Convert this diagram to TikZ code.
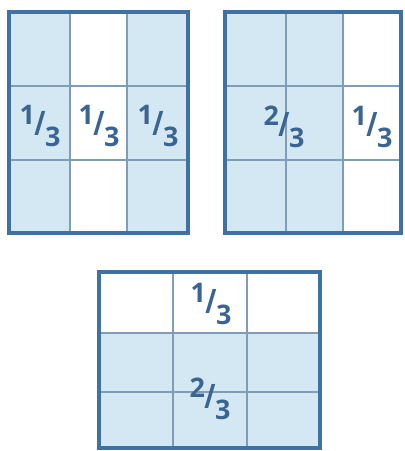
\documentclass[tikz,border=0pt]{standalone}
\usepackage{fontspec}
\setsansfont{Open Sans}
\definecolor{frameblue}{HTML}{3E72A4}
\definecolor{cellblue}{HTML}{D4E8F4}
\definecolor{gridblue}{HTML}{7F9CB8}
\definecolor{textblue}{HTML}{3A6491}
\usetikzlibrary{positioning}

% one third / two thirds written with a slanted bar
\newcommand{\slfrac}[2]{\raisebox{0.4em}{#1}\kern-0.02em\scalebox{1}[1.25]{/}\kern-0.02em\raisebox{-0.4em}{#2}}

\begin{document}
\begin{tikzpicture}[x=0.03cm, y=-0.03cm,
    framebox/.style={draw=frameblue, line width=3.4pt},
    gridline/.style={draw=gridblue, line width=0.9pt},
    fraclabel/.style={text=textblue, font=\sffamily\bfseries\fontsize{23}{23}\selectfont, inner sep=0pt}]
  \useasboundingbox (0,0) rectangle (405,451);

  % left sheet: three columns, outer two shaded
  \fill[cellblue] (9,12) rectangle (70,233);
  \fill[cellblue] (127,12) rectangle (188,233);
  \foreach \x in {70,127} \draw[gridline] (\x,12) -- (\x,233);
  \foreach \y in {86,160} \draw[gridline] (9,\y) -- (188,\y);
  \draw[framebox] (9,12) rectangle (188,233);

  \node[fraclabel] (leftA) at (40,126) {\slfrac{1}{3}};
  \node[fraclabel] (leftB) at (99,126) {\slfrac{1}{3}};
  \node[fraclabel] (leftC) at (158,126) {\slfrac{1}{3}};

  % right sheet: two columns shaded, one white
  \fill[cellblue] (225,12) rectangle (343,233);
  \foreach \x in {286,343} \draw[gridline] (\x,12) -- (\x,233);
  \foreach \y in {86,160} \draw[gridline] (225,\y) -- (401,\y);
  \draw[framebox] (225,12) rectangle (401,233);

  \node[fraclabel] (rightA) at (284,127) {\slfrac{2}{3}};
  \node[fraclabel] (rightB) at (372,127) {\slfrac{1}{3}};

  % bottom sheet: lower two rows shaded
  \fill[cellblue] (99,333) rectangle (320,448);
  \foreach \x in {173,247} \draw[gridline] (\x,272) -- (\x,448);
  \foreach \y in {333,392} \draw[gridline] (99,\y) -- (320,\y);
  \draw[framebox] (99,272) rectangle (320,448);

  \node[fraclabel] (lowA) at (211,304) {\slfrac{1}{3}};
  \node[fraclabel] (lowB) at (210,399) {\slfrac{2}{3}};
\end{tikzpicture}
\end{document}
